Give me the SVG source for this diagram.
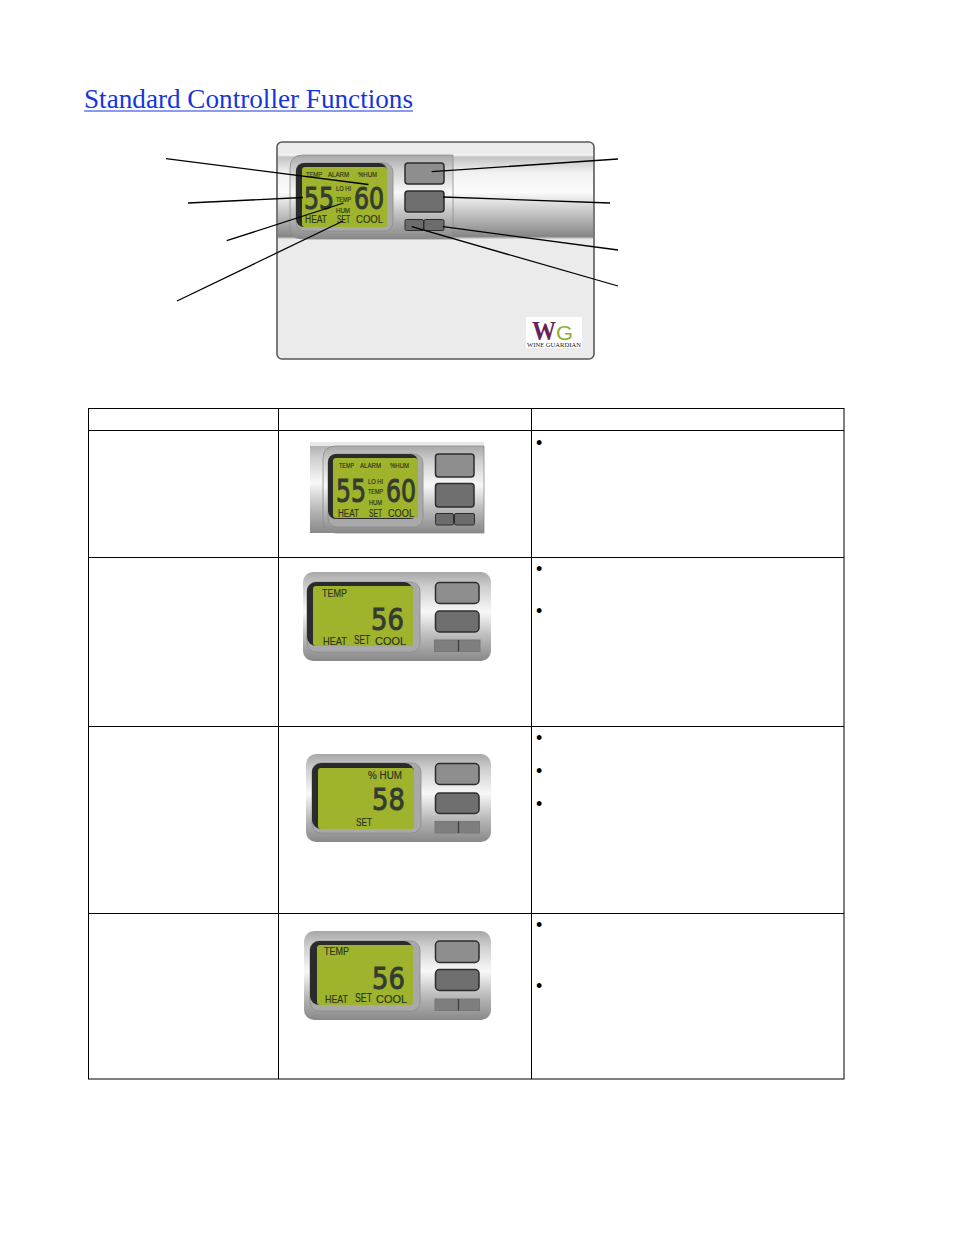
<svg xmlns="http://www.w3.org/2000/svg" width="954" height="1235" viewBox="0 0 954 1235">
<defs>
<linearGradient id="metal" x1="0" y1="0" x2="0" y2="1"><stop offset="0" stop-color="#a8a8a8"/><stop offset=".18" stop-color="#d0d0d0"/><stop offset=".45" stop-color="#f8f8f8"/><stop offset=".72" stop-color="#bcbcbc"/><stop offset="1" stop-color="#888"/></linearGradient>
<linearGradient id="band" x1="0" y1="0" x2="0" y2="1"><stop offset="0" stop-color="#fff"/><stop offset=".04" stop-color="#c4c4c4"/><stop offset=".22" stop-color="#f2f2f2"/><stop offset=".45" stop-color="#fbfbfb"/><stop offset=".75" stop-color="#b8b8b8"/><stop offset=".97" stop-color="#868686"/><stop offset="1" stop-color="#ddd"/></linearGradient>
</defs>
<style>
.t{font-family:"Liberation Sans",Arial,sans-serif;fill:#2a3320;stroke:#2a3320;stroke-width:.15}
.d{font-family:"DejaVu Sans",sans-serif;fill:#343c30;stroke:#343c30;stroke-width:1}
.title{font-family:"Liberation Serif","Times New Roman",serif;font-size:27px;fill:#1436e0}
.grid{stroke:#000;stroke-width:1;fill:none}
.lead{stroke:#000;stroke-width:1.3;fill:none}
.metal{fill:url(#metal)}
.ring{fill:url(#metal);stroke:#8a8a8a;stroke-width:.8}
.lcd{fill:#2b2b2b}
.bezel{fill:#a9a9a9;stroke:#8c8c8c;stroke-width:.8}
.green{fill:#9fb32c}
.b1{fill:#8e8e8e;stroke:#2c2c2c;stroke-width:1.5}
.b2{fill:#6f6f6f;stroke:#2c2c2c;stroke-width:1.5}
.b3{fill:#6c6c6c;stroke:#2c2c2c;stroke-width:1}
.b4{fill:#7e7e7e;stroke:#777;stroke-width:1}
.div{stroke:#3c3c3c;stroke-width:1.2}
.bullet{font-family:"Liberation Sans",Arial,sans-serif;font-size:18px;fill:#000}
</style>
<rect width="954" height="1235" fill="#fff"/>
<text id="title" class="title" x="84" y="108" textLength="329" lengthAdjust="spacingAndGlyphs">Standard Controller Functions</text>
<line x1="84" y1="111" x2="413" y2="111" stroke="#1436e0" stroke-width="1.2"/>

<g id="main-controller">
<rect x="277" y="142" width="317" height="217" rx="5" fill="#ebebeb" stroke="#5a5a5a" stroke-width="1.6"/>
<rect x="278" y="154" width="315" height="85" fill="url(#band)"/>
<path d="M303 155H453V239H303Q290 239 290 226V168Q290 155 303 155Z" class="ring"/>
<rect x="296" y="163" width="97" height="68" rx="9" class="bezel"/>
<rect x="296" y="163" width="91" height="64" rx="8" class="lcd"/>
<rect x="302" y="167" width="85" height="60" rx="3" class="green"/>
<rect x="405" y="163" width="39" height="21" rx="3" class="b1"/>
<rect x="405" y="191" width="39" height="21" rx="3" class="b2"/>
<rect x="405" y="219.500" width="18.500" height="11" rx="1.500" class="b3"/>
<rect x="424" y="219.500" width="20" height="11" rx="1.500" class="b3"/>
<text class="t" x="306" y="177" font-size="7" textLength="16" lengthAdjust="spacingAndGlyphs">TEMP</text>
<text class="t" x="328" y="177" font-size="7" textLength="21" lengthAdjust="spacingAndGlyphs">ALARM</text>
<text class="t" x="358" y="177" font-size="7" textLength="19" lengthAdjust="spacingAndGlyphs">%HUM</text>
<text class="d" transform="translate(304 209) scale(.79 1)" font-size="30">55</text>
<text class="d" transform="translate(354 209) scale(.79 1)" font-size="30">60</text>
<text class="t" x="336" y="191" font-size="7" textLength="15" lengthAdjust="spacingAndGlyphs">LO HI</text>
<text class="t" x="336" y="202" font-size="6.500" textLength="15" lengthAdjust="spacingAndGlyphs">TEMP</text>
<text class="t" x="336" y="213" font-size="6.500" textLength="14" lengthAdjust="spacingAndGlyphs">HUM</text>
<text class="t" x="305" y="223" font-size="10" textLength="22" lengthAdjust="spacingAndGlyphs">HEAT</text>
<text class="t" x="337" y="223" font-size="10" textLength="13" lengthAdjust="spacingAndGlyphs">SET</text>
<text class="t" x="356" y="223" font-size="10" textLength="27" lengthAdjust="spacingAndGlyphs">COOL</text>
</g>

<g id="logo">
<rect x="526" y="317" width="56" height="31" fill="#fff"/>
<text x="532" y="340" font-family="Liberation Serif,serif" font-size="27" font-weight="bold" fill="#64225e" textLength="24" lengthAdjust="spacingAndGlyphs">W</text>
<text x="556" y="340" font-family="Liberation Sans,sans-serif" font-size="20" fill="#8fb030" textLength="17" lengthAdjust="spacingAndGlyphs">G</text>
<text x="527" y="346.500" font-family="Liberation Serif,serif" font-size="6" fill="#222" textLength="54" lengthAdjust="spacingAndGlyphs">WINE GUARDIAN</text>
</g>

<g id="connectors">
<line class="lead" x1="166" y1="158.700" x2="368.500" y2="184.500"/>
<line class="lead" x1="188" y1="203" x2="303" y2="197.500"/>
<line class="lead" x1="226.700" y1="240.700" x2="343.500" y2="203"/>
<line class="lead" x1="177" y1="301" x2="343" y2="221"/>
<line class="lead" x1="618" y1="159" x2="431.700" y2="171.700"/>
<line class="lead" x1="610" y1="203" x2="443" y2="197"/>
<line class="lead" x1="618" y1="250" x2="443" y2="226.700"/>
<line class="lead" x1="618" y1="286" x2="411.700" y2="226.700"/>
</g>

<g id="table" class="grid">
<rect x="88.500" y="408.500" width="755.500" height="670.500"/>
<line x1="88" y1="430.500" x2="844" y2="430.500"/>
<line x1="88" y1="557.500" x2="844" y2="557.500"/>
<line x1="88" y1="726.500" x2="844" y2="726.500"/>
<line x1="88" y1="913.500" x2="844" y2="913.500"/>
<line x1="278.500" y1="408" x2="278.500" y2="1079"/>
<line x1="531.500" y1="408" x2="531.500" y2="1079"/>
</g>

<g id="bullets">
<text class="bullet" x="536" y="448.500">•</text>
<text class="bullet" x="536" y="574.500">•</text>
<text class="bullet" x="536" y="616.500">•</text>
<text class="bullet" x="536" y="743.500">•</text>
<text class="bullet" x="536" y="776.500">•</text>
<text class="bullet" x="536" y="809.500">•</text>
<text class="bullet" x="536" y="930.500">•</text>
<text class="bullet" x="536" y="991.500">•</text>
</g>

<g id="controller-1">
<rect x="310" y="442" width="174" height="91" class="metal"/>
<rect x="310" y="442" width="174" height="4" fill="#e8e8e8"/>
<path d="M336 446H484V533H336Q323 533 323 520V459Q323 446 336 446Z" class="ring"/>
<rect x="328" y="454" width="95" height="73" rx="9" class="bezel"/>
<rect x="328" y="454" width="90" height="65" rx="8" class="lcd"/>
<rect x="333" y="458" width="85" height="60" rx="3" class="green"/>
<rect x="435.500" y="454" width="38.500" height="23" rx="3" class="b1"/>
<rect x="435.500" y="483.500" width="38.500" height="23.500" rx="3" class="b2"/>
<rect x="435.500" y="513.500" width="18" height="11.500" rx="1.500" class="b3"/>
<rect x="454.500" y="513.500" width="20" height="11.500" rx="1.500" class="b3"/>
<text class="t" x="339" y="468" font-size="7" textLength="15" lengthAdjust="spacingAndGlyphs">TEMP</text>
<text class="t" x="360" y="468" font-size="7" textLength="21" lengthAdjust="spacingAndGlyphs">ALARM</text>
<text class="t" x="390" y="468" font-size="7" textLength="19" lengthAdjust="spacingAndGlyphs">%HUM</text>
<text class="d" transform="translate(336 502) scale(.74 1)" font-size="32">55</text>
<text class="d" transform="translate(386 502) scale(.74 1)" font-size="32">60</text>
<text class="t" x="368" y="484" font-size="7" textLength="15" lengthAdjust="spacingAndGlyphs">LO HI</text>
<text class="t" x="368" y="494" font-size="6.500" textLength="15" lengthAdjust="spacingAndGlyphs">TEMP</text>
<text class="t" x="369" y="505" font-size="6.500" textLength="13" lengthAdjust="spacingAndGlyphs">HUM</text>
<text class="t" x="338" y="517" font-size="10" textLength="21" lengthAdjust="spacingAndGlyphs">HEAT</text>
<text class="t" x="369" y="517" font-size="10" textLength="13" lengthAdjust="spacingAndGlyphs">SET</text>
<text class="t" x="388" y="517" font-size="10" textLength="26" lengthAdjust="spacingAndGlyphs">COOL</text>
</g>

<g id="controller-2">
<rect x="303" y="572" width="188" height="89" rx="10" class="metal"/>
<rect x="307" y="582" width="113" height="70" rx="9" class="bezel"/>
<rect x="307" y="582" width="106" height="64" rx="9" class="lcd"/>
<rect x="313" y="586" width="100" height="60" rx="3" class="green"/>
<rect x="435.500" y="582.500" width="43.500" height="21" rx="4" class="b1"/>
<rect x="435.500" y="611" width="43.500" height="21" rx="4" class="b2"/>
<rect x="434.500" y="640" width="45.500" height="11.500" class="b4"/>
<line class="div" x1="458.500" y1="640" x2="458.500" y2="651.500"/>
<text class="t" x="322" y="597" font-size="10" textLength="25" lengthAdjust="spacingAndGlyphs">TEMP</text>
<text class="d" transform="translate(371 630) scale(.86 1)" font-size="30">56</text>
<text class="t" x="323" y="645" font-size="10.500" textLength="24" lengthAdjust="spacingAndGlyphs">HEAT</text>
<text class="t" x="354" y="644" font-size="12" textLength="16" lengthAdjust="spacingAndGlyphs">SET</text>
<text class="t" x="375" y="645" font-size="10.500" textLength="31" lengthAdjust="spacingAndGlyphs">COOL</text>
</g>

<g id="controller-3">
<rect x="306" y="754" width="185" height="88" rx="10" class="metal"/>
<rect x="312" y="763" width="109" height="70" rx="9" class="bezel"/>
<rect x="312" y="763" width="102" height="66" rx="9" class="lcd"/>
<rect x="318" y="768" width="96" height="61" rx="3" class="green"/>
<rect x="435.500" y="763.500" width="43.500" height="21" rx="4" class="b1"/>
<rect x="435.500" y="793" width="43.500" height="20.500" rx="4" class="b2"/>
<rect x="435" y="821.500" width="44.500" height="11.500" class="b4"/>
<line class="div" x1="458.500" y1="821.500" x2="458.500" y2="833"/>
<text class="t" x="368" y="779" font-size="10" textLength="34" lengthAdjust="spacingAndGlyphs">% HUM</text>
<text class="d" transform="translate(372 810) scale(.86 1)" font-size="30">58</text>
<text class="t" x="356" y="826" font-size="11.500" textLength="16" lengthAdjust="spacingAndGlyphs">SET</text>
</g>

<g id="controller-4">
<rect x="304" y="931" width="187" height="89" rx="10" class="metal"/>
<rect x="310" y="941" width="110" height="70" rx="9" class="bezel"/>
<rect x="310" y="941" width="103" height="64" rx="9" class="lcd"/>
<rect x="317" y="945" width="96" height="60" rx="3" class="green"/>
<rect x="435.500" y="941" width="43.500" height="21.500" rx="4" class="b1"/>
<rect x="435.500" y="969.500" width="43.500" height="21" rx="4" class="b2"/>
<rect x="435" y="999" width="44.500" height="11.500" class="b4"/>
<line class="div" x1="458.500" y1="999" x2="458.500" y2="1010.500"/>
<text class="t" x="324" y="955" font-size="10" textLength="25" lengthAdjust="spacingAndGlyphs">TEMP</text>
<text class="d" transform="translate(372 989) scale(.86 1)" font-size="30">56</text>
<text class="t" x="325" y="1003" font-size="10.500" textLength="23" lengthAdjust="spacingAndGlyphs">HEAT</text>
<text class="t" x="355" y="1002" font-size="12" textLength="17" lengthAdjust="spacingAndGlyphs">SET</text>
<text class="t" x="376" y="1003" font-size="10.500" textLength="31" lengthAdjust="spacingAndGlyphs">COOL</text>
</g>
</svg>
